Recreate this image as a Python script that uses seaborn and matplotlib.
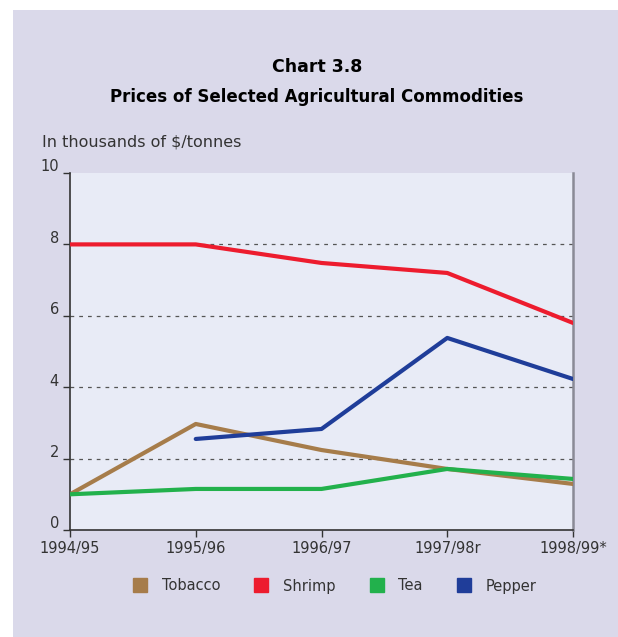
import pandas as pd
import matplotlib.pyplot as plt
import seaborn as sns
from matplotlib.lines import Line2D
from matplotlib.patches import Rectangle
from matplotlib.transforms import ScaledTranslation

# data (thousands of $/tonne)
years = ['1994/95', '1995/96', '1996/97', '1997/98r', '1998/99*']
tobacco = [1.0, 2.97, 2.24, 1.71, 1.29]
shrimp = [8.0, 8.0, 7.48, 7.2, 5.8]
tea = [1.0, 1.15, 1.15, 1.71, 1.43]
pepper = [None, 2.55, 2.83, 5.38, 4.23]

series_names = ['Tobacco', 'Shrimp', 'Tea', 'Pepper']
colors = ['#A67C4A', '#ED1C2E', '#22B14C', '#1F3D99']

rows = []
for name, vals in zip(series_names, [tobacco, shrimp, tea, pepper]):
    for i, v in enumerate(vals):
        if v is not None:
            rows.append({'pos': i, 'year': years[i], 'commodity': name, 'price': v})
df = pd.DataFrame(rows)

sns.set_style('white')
plt.rcParams['font.family'] = ['DejaVu Sans']

fig = plt.figure(figsize=(6.18, 6.37), dpi=100, facecolor='white')
# lavender panel behind everything, white strip at top/left
fig.patches.append(Rectangle((13 / 618, 0), 1 - 13 / 618, 1 - 10 / 637,
                             transform=fig.transFigure, facecolor='#DAD9EA',
                             edgecolor='none', zorder=-1))

ax = fig.add_axes([70 / 618, 1 - 530 / 637, 503 / 618, 357 / 637])
ax.set_zorder(2)
ax.set_facecolor('#E8EBF6')

sns.lineplot(data=df, x='pos', y='price', hue='commodity', hue_order=series_names,
             palette=colors, linewidth=3.0, ax=ax, legend=False, zorder=3)

ax.set_xlim(0, 4)
ax.set_ylim(0, 10)
ax.set_xticks(range(len(years)))
ax.set_xticklabels(years)
ax.set_yticks([0, 2, 4, 6, 8, 10])
ax.set_xlabel('')
ax.set_ylabel('')

for y in [2, 4, 6, 8]:
    ax.axhline(y, color='#555555', linestyle=(0, (3, 4)), linewidth=0.9, zorder=1)

ax.spines['top'].set_visible(False)
ax.spines['left'].set_color('#333333')
ax.spines['left'].set_linewidth(1.2)
ax.spines['bottom'].set_color('#333333')
ax.spines['bottom'].set_linewidth(1.2)
ax.spines['right'].set_color('#8A8A96')
ax.spines['right'].set_linewidth(1.8)

ax.tick_params(axis='both', direction='out', length=5, width=1, color='#333333',
               labelsize=10.5, labelcolor='#333333', bottom=True, left=True)
ax.tick_params(axis='y', pad=3)
ax.tick_params(axis='x', pad=3)
for lbl in ax.get_yticklabels():
    lbl.set_va('bottom')
    lbl.set_transform(lbl.get_transform() + ScaledTranslation(0, -1 / 72, fig.dpi_scale_trans))

fig.text(317 / 618, 1 - 67 / 637, 'Chart 3.8', ha='center', va='center',
         fontsize=12.5, fontweight='bold', color='black')
fig.text(317 / 618, 1 - 97 / 637, 'Prices of Selected Agricultural Commodities',
         ha='center', va='center', fontsize=12, fontweight='bold', color='black')
fig.text(42 / 618, 1 - 142 / 637, 'In thousands of $/tonnes', ha='left', va='center',
         fontsize=11.5, color='#333333')

handles = [Line2D([], [], marker='s', linestyle='none', markersize=10,
                  markerfacecolor=c, markeredgecolor=c) for c in colors]
fig.legend(handles, series_names, loc='center', ncol=4, frameon=False,
           bbox_to_anchor=(331 / 618, 1 - 586 / 637), fontsize=10.5,
           handletextpad=0.5, columnspacing=1.8, labelcolor='#333333')

fig.savefig('out.png', dpi=100, facecolor=fig.get_facecolor())
